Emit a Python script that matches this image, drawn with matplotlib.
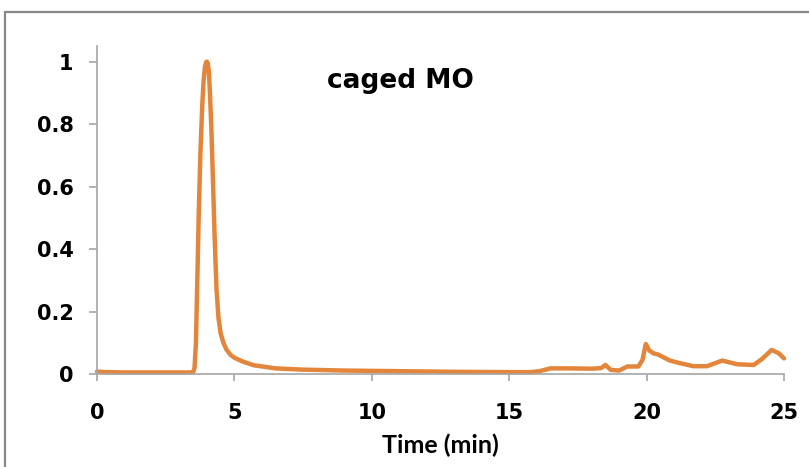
import matplotlib
matplotlib.use("Agg")
import matplotlib.pyplot as plt
from matplotlib.patches import Rectangle

# chromatogram trace (time in min, normalised signal)
time_min = [0.0, 0.3, 1.0, 2.0, 3.0, 3.45, 3.5, 3.55, 3.6, 3.65, 3.7, 3.76,
            3.83, 3.88, 3.93, 3.97, 4.0, 4.03, 4.07, 4.11, 4.16, 4.22, 4.28,
            4.35, 4.42, 4.5, 4.6, 4.7, 4.85, 5.0, 5.3, 5.7, 6.5, 7.5, 9.0,
            11.0, 13.0, 15.0, 15.8, 16.1, 16.5, 17.2, 18.0, 18.35, 18.5,
            18.7, 19.0, 19.3, 19.7, 19.85, 19.97, 20.1, 20.25, 20.4, 20.85,
            21.2, 21.7, 22.2, 22.75, 23.3, 23.9, 24.2, 24.55, 24.8, 25.0]
signal = [0.008, 0.006, 0.005, 0.005, 0.005, 0.005, 0.006, 0.02, 0.1, 0.3,
          0.5, 0.7, 0.86, 0.94, 0.985, 0.998, 1.0, 0.995, 0.97, 0.9, 0.79,
          0.62, 0.44, 0.27, 0.18, 0.13, 0.1, 0.08, 0.062, 0.052, 0.04, 0.028,
          0.018, 0.014, 0.011, 0.009, 0.007, 0.006, 0.006, 0.009, 0.018,
          0.018, 0.017, 0.019, 0.029, 0.013, 0.011, 0.024, 0.024, 0.045,
          0.096, 0.075, 0.066, 0.063, 0.043, 0.035, 0.025, 0.025, 0.043,
          0.031, 0.029, 0.048, 0.077, 0.067, 0.050]

x_ticks = [0, 5, 10, 15, 20, 25]
y_ticks = [0, 0.2, 0.4, 0.6, 0.8, 1]
y_labels = ["0", "0.2", "0.4", "0.6", "0.8", "1"]

W, H = 809, 467
fig = plt.figure(figsize=(W / 100, H / 100), dpi=100)
ax = fig.add_axes([97 / W, 93 / H, 687 / W, 328 / H])

ax.plot(time_min, signal, color="#E3853A", lw=3.2, solid_joinstyle="round",
        solid_capstyle="round", clip_on=False)

ax.set_xlim(0, 25)
ax.set_ylim(0, 1.05)
ax.set_xticks(x_ticks)
ax.set_yticks(y_ticks)
ax.set_yticklabels(y_labels)

for s in ["top", "right"]:
    ax.spines[s].set_visible(False)
for s in ["left", "bottom"]:
    ax.spines[s].set_color("#A6A6A6")
    ax.spines[s].set_linewidth(1.2)

ax.tick_params(axis="x", length=5, width=1.2, color="#A6A6A6", pad=16,
               labelsize=15)
ax.tick_params(axis="y", length=6, width=1.2, color="#A6A6A6", pad=11,
               labelsize=15)
for lab in ax.get_xticklabels() + ax.get_yticklabels():
    lab.set_fontweight("bold")
    lab.set_fontfamily("DejaVu Sans")

ax.text(0.441, 0.872, "caged MO", transform=ax.transAxes, ha="center",
        va="baseline", fontsize=19, fontweight="bold", family="DejaVu Sans")

fig.text(440 / W, 1 - 453 / H, "Time (min)", ha="center", va="baseline",
         fontsize=18, fontweight="bold", family="Lato")

# outer chart frame, only its top and left edges are inside the picture
fig.patches.append(Rectangle((5 / W, -0.2), 1.2, 1.2 - 12 / H,
                             transform=fig.transFigure, fill=False,
                             edgecolor="#888888", lw=1.6))

fig.savefig("out.png", dpi=100)
